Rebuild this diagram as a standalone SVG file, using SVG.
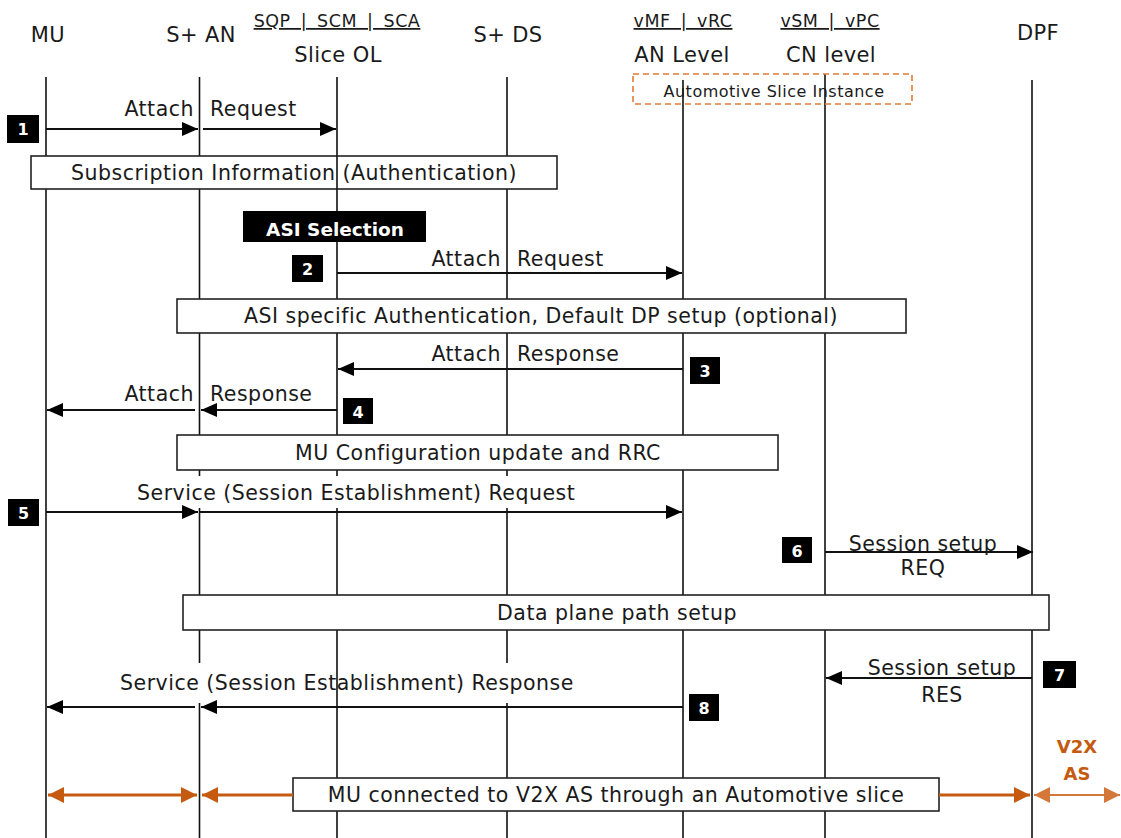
<svg xmlns="http://www.w3.org/2000/svg" width="1121" height="838" viewBox="0 0 1121 838">
<style>
text{font-family:"DejaVu Sans","Liberation Sans",sans-serif;fill:#1a1a1a}
.hd{font-size:21px;letter-spacing:0.4px;text-anchor:middle}
.ul{font-size:17.5px;letter-spacing:0.5px;word-spacing:4px;text-anchor:middle;text-decoration:underline}
.lb{font-size:20.5px;letter-spacing:0.5px}
.c{text-anchor:middle}
.e{text-anchor:end}
.life{stroke:#111;stroke-width:1.6;fill:none}
.box{fill:#fff;stroke:#222;stroke-width:1.6}
.msg{stroke:#111;stroke-width:2.2;fill:none}
.num rect{fill:#000}
.num text{fill:#fff;font-size:16px;font-weight:bold;text-anchor:middle}
.or{stroke:#C55A11;stroke-width:3;fill:none}
.ort{stroke:#D4773A;stroke-width:2;fill:none}
.v2x{fill:#C55A11;font-size:18px;font-weight:bold;text-anchor:middle}
</style>
<defs>
<marker id="ah" markerUnits="userSpaceOnUse" markerWidth="17" markerHeight="15" refX="16" refY="7" orient="auto"><path d="M0,0 L16,7 L0,14 z" fill="#000"/></marker>
<marker id="oh" markerUnits="userSpaceOnUse" markerWidth="17" markerHeight="17" refX="16" refY="8" orient="auto-start-reverse"><path d="M0,0 L16,8 L0,16 z" fill="#C55A11"/></marker>
<marker id="oht" markerUnits="userSpaceOnUse" markerWidth="17" markerHeight="17" refX="16" refY="8" orient="auto-start-reverse"><path d="M0,0 L16,8 L0,16 z" fill="#D4773A"/></marker>
</defs>
<rect width="1121" height="838" fill="#fff"/>

<g id="lifelines">
<path class="life" d="M46,77 V838"/>
<path class="life" d="M199.5,77 V476 M199.5,508 V663 M199.5,703 V838"/>
<path class="life" d="M337,77 V476 M337,508 V838"/>
<path class="life" d="M507,77 V476 M507,508 V663 M507,703 V838"/>
<path class="life" d="M683,80 V838"/>
<path class="life" d="M825,74 V838"/>
<path class="life" d="M1032,80 V838"/>
</g>

<g id="headers">
<g id="n-mu"><text class="hd" x="48" y="42">MU</text></g>
<g id="n-san"><text class="hd" x="201" y="42">S+ AN</text></g>
<g id="n-sliceol"><text class="ul" x="337" y="27">SQP | SCM | SCA</text><text class="hd" x="338" y="62">Slice OL</text></g>
<g id="n-sds"><text class="hd" x="508" y="42">S+ DS</text></g>
<g id="n-an"><text class="ul" x="683" y="27">vMF | vRC</text><text class="hd" x="682" y="62">AN Level</text></g>
<g id="n-cn"><text class="ul" x="830" y="27">vSM | vPC</text><text class="hd" x="831" y="62">CN level</text></g>
<g id="n-dpf"><text class="hd" x="1038" y="40">DPF</text></g>
<g id="n-asi"><rect x="633" y="74" width="279" height="30" fill="none" stroke="#E07B39" stroke-width="1.6" stroke-dasharray="6,4"/><text x="774" y="97" class="c" style="font-size:16px;letter-spacing:0.5px">Automotive Slice Instance</text></g>
</g>

<g id="boxes">
<g id="b-sub"><rect class="box" x="31" y="156" width="526" height="33"/><text class="lb c" x="294" y="180">Subscription Information (Authentication)</text></g>
<g id="b-asisel"><rect x="243" y="211" width="183" height="31" fill="#000"/><text x="335" y="236" class="c" style="fill:#fff;font-size:18.5px;font-weight:bold">ASI Selection</text></g>
<g id="b-asiauth"><rect class="box" x="177" y="299" width="729" height="34"/><text class="lb c" x="541" y="323">ASI specific Authentication, Default DP setup (optional)</text></g>
<g id="b-mucfg"><rect class="box" x="177" y="435" width="601" height="35"/><text class="lb c" x="478" y="460">MU Configuration update and RRC</text></g>
<g id="b-dp"><rect class="box" x="183" y="595" width="866" height="35"/><text class="lb c" x="617" y="620">Data plane path setup</text></g>
<g id="b-v2x"><rect class="box" x="293" y="778" width="646" height="33"/><text class="lb c" x="616" y="802">MU connected to V2X AS through an Automotive slice</text></g>
</g>
<path class="life" d="M337,156 V189"/>

<g id="connectors">
<path class="msg" d="M46,129 H198" marker-end="url(#ah)"/>
<path class="msg" d="M203,129 H336" marker-end="url(#ah)"/>
<path class="msg" d="M337,273 H682" marker-end="url(#ah)"/>
<path class="msg" d="M683,369 H338" marker-end="url(#ah)"/>
<path class="msg" d="M337,410 H201" marker-end="url(#ah)"/>
<path class="msg" d="M195,410 H47" marker-end="url(#ah)"/>
<path class="msg" d="M46,512 H198" marker-end="url(#ah)"/>
<path class="msg" d="M199,512 H682" marker-end="url(#ah)"/>
<path class="msg" d="M825,552 H1033" marker-end="url(#ah)"/>
<path class="msg" d="M1032,678 H826" marker-end="url(#ah)"/>
<path class="msg" d="M683,707 H201" marker-end="url(#ah)"/>
<path class="msg" d="M195,707 H47" marker-end="url(#ah)"/>
<path class="or" d="M48,795 H197" marker-start="url(#oh)" marker-end="url(#oh)"/>
<path class="or" d="M293,795 H202" marker-end="url(#oh)"/>
<path class="or" d="M939,795 H1030" marker-end="url(#oh)"/>
<path class="ort" d="M1034,795 H1120" marker-start="url(#oht)" marker-end="url(#oht)"/>
</g>

<g id="labels">
<text class="lb e" x="194" y="116">Attach</text><text class="lb" x="210" y="116">Request</text>
<text class="lb e" x="501" y="266">Attach</text><text class="lb" x="517" y="266">Request</text>
<text class="lb e" x="501" y="361">Attach</text><text class="lb" x="517" y="361">Response</text>
<text class="lb e" x="194" y="401">Attach</text><text class="lb" x="210" y="401">Response</text>
<text class="lb" x="137" y="500">Service (Session Establishment) Request</text>
<text class="lb c" x="923" y="551">Session setup</text><text class="lb c" x="923" y="575">REQ</text>
<text class="lb c" x="942" y="675">Session setup</text><text class="lb c" x="942" y="702">RES</text>
<text class="lb" x="120" y="690">Service (Session Establishment) Response</text>
<text class="v2x" x="1077" y="753">V2X</text><text class="v2x" x="1077" y="780">AS</text>
</g>

<g id="numbers">
<g class="num" id="s1"><rect x="7" y="115" width="32" height="28"/><text x="23" y="135">1</text></g>
<g class="num" id="s2"><rect x="292" y="255" width="31" height="27"/><text x="307.5" y="275">2</text></g>
<g class="num" id="s3"><rect x="690" y="357" width="30" height="27"/><text x="705" y="377">3</text></g>
<g class="num" id="s4"><rect x="343" y="398" width="30" height="26"/><text x="358" y="418">4</text></g>
<g class="num" id="s5"><rect x="8" y="499" width="31" height="27"/><text x="23.5" y="519">5</text></g>
<g class="num" id="s6"><rect x="782" y="537" width="30" height="26"/><text x="797" y="557">6</text></g>
<g class="num" id="s7"><rect x="1043" y="661" width="33" height="27"/><text x="1059.5" y="681">7</text></g>
<g class="num" id="s8"><rect x="689" y="694" width="30" height="27"/><text x="704" y="714">8</text></g>
</g>
</svg>
